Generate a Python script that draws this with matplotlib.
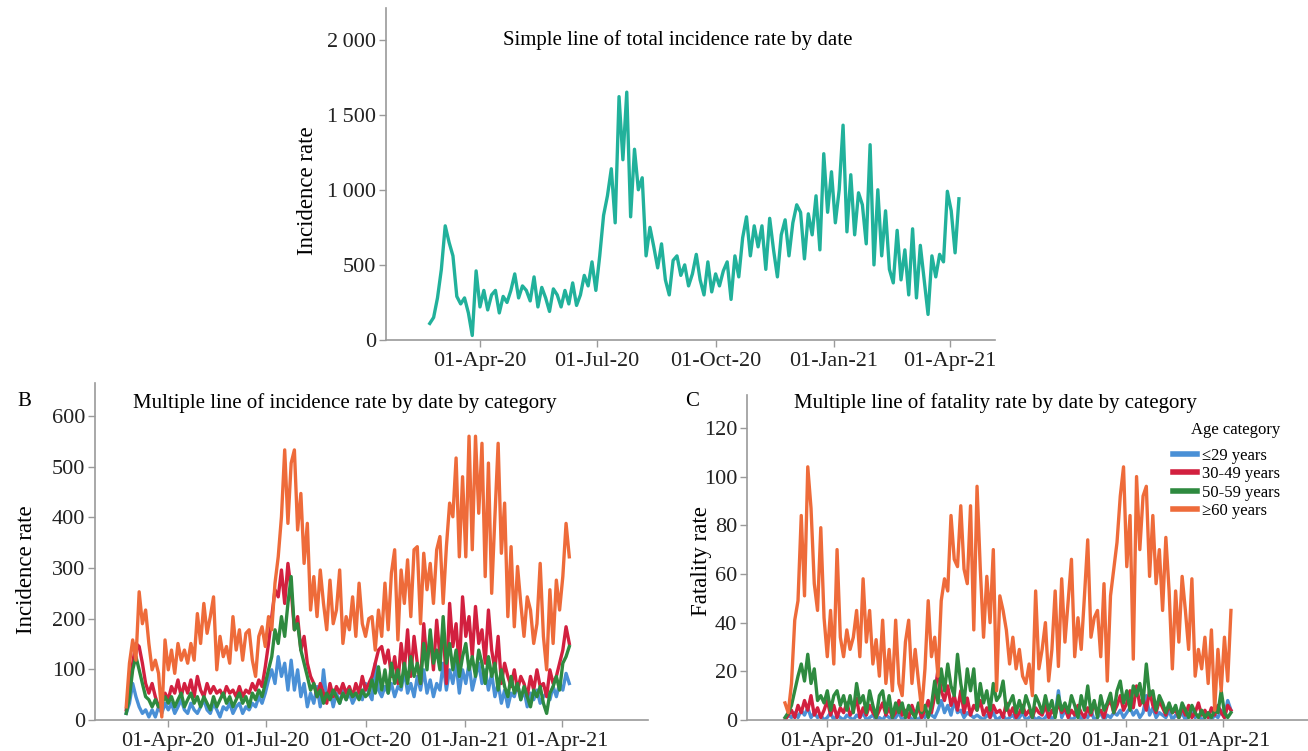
import numpy as np
import matplotlib
matplotlib.use("Agg")
from matplotlib import pyplot as plt
import matplotlib.dates as mdates
from matplotlib.ticker import FuncFormatter

plt.rcParams['font.family'] = ['Liberation Serif', 'DejaVu Serif']

# ---------------------- data (one value every 3 days) ----------------------
start_date = np.datetime64('2020-02-22')
n_points = 138
dates = start_date + np.arange(n_points) * np.timedelta64(3, 'D')

total_rate = [110, 150, 280, 470, 760, 650, 560, 290, 240, 280,
              180, 30, 460, 220, 330, 200, 300, 330, 180, 290,
              250, 330, 440, 280, 360, 330, 260, 420, 220, 350,
              280, 190, 340, 300, 220, 330, 240, 380, 230, 300,
              430, 360, 520, 330, 560, 830, 960, 1140, 780, 1620,
              1200, 1650, 820, 1270, 1000, 1080, 560, 750, 620, 480,
              640, 400, 300, 530, 560, 430, 500, 360, 440, 570,
              400, 300, 520, 320, 440, 360, 460, 520, 270, 560,
              420, 680, 820, 560, 760, 620, 760, 470, 810, 600,
              420, 700, 800, 560, 780, 900, 850, 540, 840, 700,
              960, 600, 1240, 850, 1120, 780, 1000, 1430, 720, 1100,
              700, 980, 900, 640, 1300, 500, 1000, 560, 860, 470,
              380, 730, 400, 600, 300, 740, 280, 630, 400, 170,
              560, 420, 570, 520, 990, 860, 580, 940]

# incidence by age category
inc_le29 = [13, 33, 72, 46, 26, 13, 20, 6, 20, 6,
            26, 13, 33, 20, 33, 13, 26, 40, 20, 13,
            33, 20, 13, 26, 40, 20, 13, 33, 20, 6,
            26, 20, 33, 13, 26, 33, 13, 26, 20, 33,
            26, 46, 33, 53, 79, 99, 72, 125, 86, 112,
            59, 118, 59, 99, 46, 72, 26, 53, 33, 66,
            26, 99, 40, 59, 26, 53, 33, 59, 40, 53,
            33, 46, 59, 40, 72, 53, 40, 112, 59, 46,
            66, 53, 72, 46, 66, 59, 99, 53, 72, 46,
            86, 59, 99, 53, 79, 46, 72, 59, 112, 59,
            99, 72, 112, 53, 99, 72, 112, 59, 86, 112,
            72, 99, 59, 92, 46, 72, 33, 59, 26, 53,
            46, 72, 40, 59, 26, 53, 40, 59, 33, 46,
            53, 40, 66, 46, 72, 59, 92, 72]
inc_30_49 = [20, 59, 112, 151, 145, 112, 72, 53, 72, 46,
             26, 40, 53, 40, 66, 53, 79, 46, 72, 53,
             79, 46, 86, 59, 46, 72, 53, 66, 53, 59,
             46, 66, 53, 59, 46, 66, 46, 59, 53, 72,
             59, 79, 66, 105, 151, 204, 257, 243, 296, 230,
             309, 257, 178, 204, 138, 165, 112, 86, 72, 46,
             72, 53, 33, 72, 46, 66, 53, 72, 53, 66,
             46, 72, 53, 86, 59, 72, 86, 112, 138, 145,
             112, 138, 86, 125, 72, 151, 99, 178, 86, 165,
             112, 72, 190, 112, 165, 99, 197, 125, 178, 72,
             230, 145, 190, 99, 243, 165, 204, 125, 224, 151,
             178, 112, 217, 138, 99, 165, 72, 112, 86, 66,
             99, 59, 86, 72, 46, 86, 59, 99, 66, 72,
             46, 99, 72, 86, 112, 138, 184, 151]
inc_50_59 = [13, 46, 99, 125, 99, 72, 46, 40, 26, 40,
             26, 33, 46, 33, 46, 26, 40, 53, 26, 40,
             53, 33, 46, 26, 46, 33, 20, 46, 26, 40,
             53, 33, 46, 26, 40, 53, 33, 46, 26, 53,
             40, 59, 46, 72, 99, 125, 178, 151, 204, 165,
             230, 283, 178, 190, 138, 112, 86, 59, 72, 46,
             59, 33, 53, 40, 59, 46, 33, 53, 40, 59,
             46, 53, 40, 59, 46, 53, 79, 53, 105, 59,
             99, 53, 112, 72, 99, 66, 112, 72, 125, 86,
             112, 72, 151, 99, 178, 112, 138, 99, 204, 112,
             151, 99, 138, 86, 125, 151, 99, 125, 86, 138,
             112, 72, 125, 86, 112, 59, 99, 66, 46, 86,
             53, 72, 40, 66, 46, 26, 59, 46, 66, 33,
             13, 53, 66, 86, 59, 112, 125, 145]
inc_ge60 = [26, 112, 158, 118, 253, 190, 217, 151, 99, 118,
            92, 6, 158, 99, 138, 92, 151, 118, 138, 112,
            151, 118, 210, 151, 230, 171, 204, 243, 99, 165,
            125, 145, 112, 204, 138, 178, 118, 171, 178, 118,
            86, 165, 184, 145, 204, 178, 270, 322, 401, 533,
            388, 507, 533, 375, 447, 309, 388, 217, 283, 204,
            296, 230, 178, 276, 190, 217, 296, 151, 204, 178,
            243, 165, 270, 190, 165, 200, 204, 138, 217, 165,
            270, 178, 290, 336, 158, 296, 230, 316, 204, 336,
            342, 190, 329, 257, 309, 230, 336, 362, 230, 342,
            428, 401, 517, 322, 480, 322, 560, 336, 560, 408,
            546, 283, 507, 250, 401, 546, 329, 428, 204, 342,
            184, 303, 230, 165, 243, 217, 151, 190, 309, 165,
            99, 257, 151, 276, 217, 283, 388, 322]

# fatality by age category
fat_le29 = [0, 2, 1, 3, 1, 4, 2, 5, 1, 3,
            1, 2, 0, 1, 3, 0, 2, 1, 0, 2,
            1, 0, 2, 1, 3, 0, 1, 2, 0, 1,
            0, 2, 1, 0, 1, 3, 0, 1, 2, 0,
            1, 0, 2, 1, 3, 2, 1, 4, 8, 3,
            6, 2, 8, 3, 4, 1, 3, 2, 1, 2,
            1, 0, 2, 1, 3, 0, 1, 2, 0, 1,
            2, 0, 1, 3, 0, 1, 2, 0, 1, 0,
            1, 3, 0, 2, 12, 1, 4, 2, 0, 1,
            3, 0, 2, 1, 4, 0, 1, 3, 0, 2,
            1, 3, 2, 4, 1, 3, 5, 2, 4, 1,
            3, 10, 2, 5, 1, 3, 2, 1, 4, 0,
            2, 1, 3, 0, 2, 4, 1, 2, 0, 1,
            3, 0, 2, 1, 4, 1, 8, 4]
fat_30_49 = [0, 2, 4, 1, 6, 3, 8, 4, 10, 2,
             5, 1, 4, 8, 2, 6, 1, 5, 3, 7,
             2, 4, 9, 1, 5, 2, 6, 3, 1, 4,
             7, 2, 5, 1, 3, 8, 2, 4, 1, 6,
             2, 5, 1, 4, 8, 3, 10, 21, 12, 8,
             14, 6, 10, 4, 12, 3, 9, 2, 6, 4,
             8, 2, 5, 1, 6, 3, 4, 1, 7, 2,
             5, 1, 3, 6, 2, 4, 1, 5, 3, 2,
             6, 1, 4, 2, 7, 3, 5, 1, 4, 2,
             6, 3, 1, 5, 2, 7, 3, 4, 1, 6,
             8, 3, 6, 10, 4, 7, 12, 5, 14, 6,
             9, 4, 12, 6, 3, 8, 5, 2, 6, 3,
             4, 1, 5, 2, 6, 1, 3, 7, 2, 4,
             1, 5, 2, 6, 3, 1, 6, 4]
fat_50_59 = [1, 3, 6, 12, 18, 23, 16, 27, 15, 21,
             8, 10, 7, 12, 4, 10, 12, 6, 10, 4,
             10, 3, 15, 7, 10, 3, 12, 6, 1, 10,
             12, 3, 10, 1, 7, 3, 7, 1, 6, 3,
             1, 7, 3, 6, 1, 6, 16, 7, 21, 12,
             23, 14, 10, 27, 15, 7, 21, 12, 21, 4,
             15, 7, 12, 4, 15, 8, 10, 16, 4, 7,
             10, 3, 8, 3, 10, 6, 1, 10, 7, 3,
             10, 4, 8, 1, 10, 4, 7, 3, 10, 6,
             1, 10, 4, 14, 3, 8, 1, 10, 4, 7,
             11, 3, 12, 16, 7, 12, 4, 14, 10, 15,
             7, 23, 10, 12, 4, 10, 7, 3, 7, 3,
             6, 1, 7, 4, 1, 6, 3, 1, 4, 1,
             3, 1, 4, 3, 12, 3, 1, 3]
fat_ge60 = [7, 3, 15, 41, 49, 84, 51, 104, 87, 56,
            45, 79, 42, 26, 45, 23, 70, 34, 26, 37,
            29, 34, 45, 26, 58, 32, 45, 23, 33, 18,
            41, 15, 29, 12, 41, 15, 10, 32, 41, 15,
            29, 16, 4, 21, 49, 26, 34, 18, 49, 58,
            53, 84, 66, 63, 88, 62, 56, 88, 37, 96,
            62, 34, 59, 40, 70, 12, 51, 45, 37, 23,
            34, 21, 29, 18, 15, 23, 10, 53, 21, 29,
            40, 16, 29, 53, 22, 58, 32, 49, 66, 26,
            42, 29, 51, 74, 34, 42, 45, 26, 56, 16,
            51, 62, 73, 92, 104, 63, 84, 25, 100, 70,
            92, 96, 59, 84, 56, 70, 45, 75, 53, 21,
            53, 32, 59, 45, 29, 58, 18, 29, 21, 34,
            15, 37, 4, 29, 12, 34, 16, 45]

age_labels = ['\u226429 years', '30-49 years', '50-59 years', '\u226560 years']
age_colors = ['#4a90d6', '#d2203f', '#2e8a3f', '#ee6b3a']
teal = '#21b19b'

tick_dates = [np.datetime64(d) for d in
              ['2020-04-01', '2020-07-01', '2020-10-01', '2021-01-01', '2021-04-01']]

# ---------------------- figure ----------------------
fig = plt.figure(figsize=(13.08, 7.51), dpi=100)
ax_a = fig.add_axes([0.2951, 0.5473, 0.4656, 0.4420])
ax_b = fig.add_axes([0.0726, 0.0413, 0.4228, 0.4487])
ax_c = fig.add_axes([0.5711, 0.0413, 0.4289, 0.4327])


def style_axis(ax, xlim, ylim, yticks):
    for side in ['top', 'right']:
        ax.spines[side].set_visible(False)
    for side in ['left', 'bottom']:
        ax.spines[side].set_color('#9a9a9a')
        ax.spines[side].set_linewidth(1.2)
    ax.set_xlim(np.datetime64(xlim[0]), np.datetime64(xlim[1]))
    ax.set_ylim(*ylim)
    ax.set_yticks(yticks)
    ax.set_xticks(tick_dates)
    ax.xaxis.set_major_formatter(mdates.DateFormatter('%d-%b-%y'))
    ax.tick_params(axis='both', colors='#9a9a9a', labelcolor='#222222',
                   labelsize=16, length=5, width=1)
    ax.tick_params(axis='y', pad=2)
    ax.tick_params(axis='x', pad=4)


# A: total incidence
ax_a.plot(dates, total_rate, color=teal, lw=2.4)
style_axis(ax_a, ('2020-01-19', '2021-05-06'), (0, 2210), [0, 500, 1000, 1500, 2000])
ax_a.yaxis.set_major_formatter(FuncFormatter(
    lambda v, p: f'{int(v):,}'.replace(',', '\u2009')))
ax_a.set_ylabel('Incidence rate', fontsize=16.5)
ax_a.yaxis.set_label_coords(-0.112, 0.45)
fig.text(0.518, 0.947, 'Simple line of total incidence rate by date',
         ha='center', va='center', fontsize=15)

# B: incidence by age category
for series, col in zip([inc_le29, inc_30_49, inc_50_59, inc_ge60], age_colors):
    ax_b.plot(dates, series, color=col, lw=2.4)
style_axis(ax_b, ('2020-01-24', '2021-06-20'), (0, 665), range(0, 601, 100))
ax_b.set_ylabel('Incidence rate', fontsize=16.5)
ax_b.yaxis.set_label_coords(-0.105, 0.445)
fig.text(0.264, 0.463, 'Multiple line of incidence rate by date by category',
         ha='center', va='center', fontsize=15)
fig.text(0.013, 0.465, 'B', ha='left', va='center', fontsize=15)

# C: fatality by age category
for series, col, lab in zip([fat_le29, fat_30_49, fat_50_59, fat_ge60], age_colors, age_labels):
    ax_c.plot(dates, series, color=col, lw=2.4, label=lab)
style_axis(ax_c, ('2020-01-18', '2021-06-18'), (0, 133.5), range(0, 121, 20))
ax_c.set_ylabel('Fatality rate', fontsize=16.5)
ax_c.yaxis.set_label_coords(-0.062, 0.49)
fig.text(0.761, 0.463, 'Multiple line of fatality rate by date by category',
         ha='center', va='center', fontsize=15)
fig.text(0.524, 0.465, 'C', ha='left', va='center', fontsize=15)

leg = ax_c.legend(title='Age category', loc='upper left', frameon=False,
                  bbox_to_anchor=(0.885, 0.458), bbox_transform=fig.transFigure,
                  fontsize=12, title_fontsize=12, handlelength=1.45,
                  handletextpad=0.3, labelspacing=0.15, alignment='right')
leg._legend_box.sep = 7
for line in leg.get_lines():
    line.set_linewidth(4)

fig.savefig('out.png', dpi=100)
